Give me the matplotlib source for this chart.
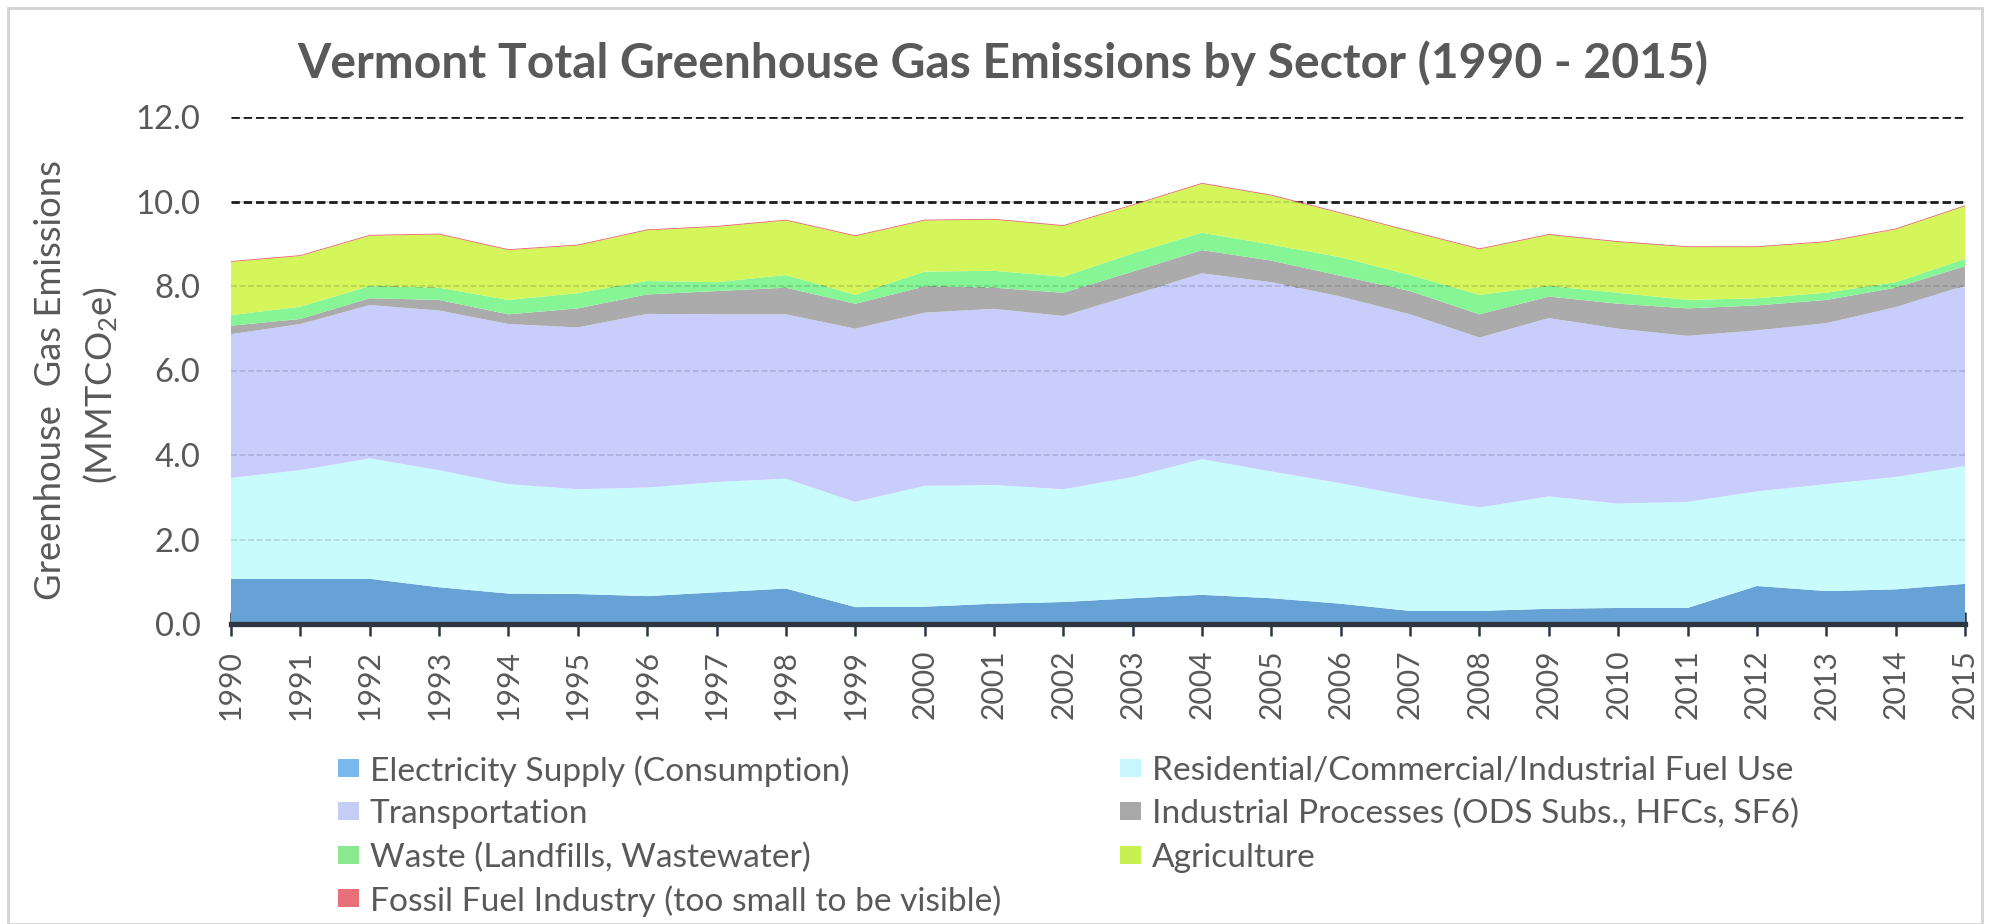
import matplotlib
matplotlib.use("Agg")
import matplotlib.pyplot as plt
from matplotlib.patches import Rectangle

plt.rcParams['font.family'] = ['Lato', 'DejaVu Sans']
plt.rcParams['mathtext.fontset'] = 'custom'
plt.rcParams['mathtext.rm'] = 'Lato'
plt.rcParams['mathtext.it'] = 'Lato:italic'

years = list(range(1990, 2016))

electricity = [1.07, 1.07, 1.07, 0.87, 0.72, 0.71, 0.66, 0.75, 0.84, 0.40, 0.41, 0.48, 0.52,
               0.61, 0.69, 0.61, 0.48, 0.31, 0.31, 0.36, 0.38, 0.38, 0.90, 0.78, 0.82, 0.95]
residential = [2.39, 2.57, 2.85, 2.77, 2.59, 2.48, 2.57, 2.61, 2.60, 2.49, 2.86, 2.81, 2.67,
               2.87, 3.21, 3.00, 2.85, 2.71, 2.45, 2.66, 2.47, 2.51, 2.24, 2.53, 2.66, 2.79]
transportation = [3.40, 3.46, 3.63, 3.78, 3.79, 3.83, 4.11, 3.97, 3.89, 4.10, 4.10, 4.17, 4.10,
                  4.31, 4.40, 4.48, 4.42, 4.31, 4.02, 4.22, 4.14, 3.93, 3.81, 3.81, 4.02, 4.27]
industrial = [0.20, 0.12, 0.16, 0.25, 0.23, 0.45, 0.46, 0.55, 0.63, 0.59, 0.62, 0.50, 0.55,
              0.55, 0.55, 0.51, 0.49, 0.55, 0.55, 0.51, 0.59, 0.65, 0.59, 0.55, 0.46, 0.46]
waste = [0.25, 0.29, 0.29, 0.29, 0.34, 0.36, 0.32, 0.21, 0.30, 0.21, 0.35, 0.40, 0.38,
         0.43, 0.41, 0.38, 0.44, 0.38, 0.46, 0.25, 0.26, 0.20, 0.17, 0.17, 0.13, 0.17]
agriculture = [1.26, 1.20, 1.19, 1.26, 1.18, 1.13, 1.20, 1.31, 1.29, 1.39, 1.21, 1.21, 1.20,
               1.14, 1.16, 1.16, 1.04, 1.03, 1.08, 1.21, 1.20, 1.25, 1.21, 1.20, 1.25, 1.25]
fossil = [0.02] * 26

labels = ["Electricity Supply (Consumption)",
          "Residential/Commercial/Industrial Fuel Use",
          "Transportation",
          "Industrial Processes (ODS Subs., HFCs, SF6)",
          "Waste (Landfills, Wastewater)",
          "Agriculture",
          "Fossil Fuel Industry (too small to be visible)"]
colors = ['#67a2d6', '#c8fcfc', '#c8cdfc', '#ababab', '#86f596', '#d4f65a', '#e8606a']
legend_colors = ['#7ab8ee', '#c8f6fc', '#c5cdf7', '#a8a8a8', '#8ae88e', '#c8f050', '#e8707a']

yticks = [0, 2, 4, 6, 8, 10, 12]
ytick_labels = ["0.0", "2.0", "4.0", "6.0", "8.0", "10.0", "12.0"]
title = "Vermont Total Greenhouse Gas Emissions by Sector (1990 - 2015)"
ylabel1 = "Greenhouse  Gas Emissions"
ylabel2 = "(MMTCO$_2$e)"

TXT = '#595959'
W, H = 1990, 924
fig = plt.figure(figsize=(W / 100, H / 100), dpi=100)
renderer = fig.canvas.get_renderer()


def fx(px):
    return px / W


def fy(py):
    return 1 - py / H


def fit_size(text, target_px, weight='normal', start=20.0):
    size = start
    for _ in range(3):
        t = fig.text(0, 0, text, fontsize=size, fontweight=weight)
        w = t.get_window_extent(renderer).width
        t.remove()
        size *= target_px / w
    return size


fig.patches.append(Rectangle((fx(8), 0), 1 - 16 / W, 1 - 8 / H, transform=fig.transFigure,
                             fill=False, edgecolor='#d4d4d4', linewidth=2))

ax = fig.add_axes([fx(231), fy(624), (1965 - 231) / W, (624 - 117) / H])
series = [electricity, residential, transportation, industrial, waste, agriculture, fossil]
ax.stackplot(years, *series, colors=colors, linewidth=0, zorder=2)

for v in yticks[1:]:
    ax.axhline(v, color='#1a1a1a', linewidth=2.0, dashes=(3.0, 1.4), zorder=1)
    ax.axhline(v, color='#333333', linewidth=1.4, dashes=(3.0, 1.4), alpha=0.16, zorder=3)

ax.set_xlim(1990, 2015)
ax.set_ylim(0, 12)
for s in ['left', 'right', 'top']:
    ax.spines[s].set_visible(False)
ax.spines['bottom'].set_linewidth(3.8)
ax.spines['bottom'].set_color('#2e3642')
ax.spines['bottom'].set_zorder(5)

xt_size = fit_size("1990", 70)
yt_size = fit_size("12.0", 65)

ax.set_xticks(years)
ax.set_xticklabels([str(y) for y in years], rotation=90, fontsize=xt_size, color=TXT)
ax.tick_params(axis='x', direction='inout', length=17, width=1.8, color='#2e3642', pad=10)
ax.set_yticks(yticks)
ax.set_yticklabels(ytick_labels, fontsize=yt_size, color=TXT)
ax.tick_params(axis='y', length=0, pad=22)

title_size = fit_size(title, 1413, weight='bold', start=30)
fig.text(fx(297), fy(78), title, ha='left', va='baseline', fontsize=title_size,
         fontweight='bold', color=TXT)

yl_size = fit_size(ylabel1, 440)
fig.text(fx(51), fy(380), ylabel1, rotation=90, ha='center', va='center',
         fontsize=yl_size, color=TXT)
fig.text(fx(101), fy(385), ylabel2, rotation=90, ha='center', va='center',
         fontsize=yl_size, color=TXT)

leg_size = fit_size("Electricity Supply (Consumptio", 450)
rows = [768, 811, 855, 898]
cols = [(338, 370), (1120, 1152)]
order = [[0, 2, 4, 6], [1, 3, 5]]
for c, idxs in enumerate(order):
    sx, tx = cols[c]
    for r, i in enumerate(idxs):
        yc = rows[r]
        fig.patches.append(Rectangle((fx(sx), fy(yc + 9)), 21 / W, 18 / H,
                                     transform=fig.transFigure, facecolor=legend_colors[i],
                                     edgecolor='none'))
        fig.text(fx(tx), fy(yc), labels[i], ha='left', va='center_baseline',
                 fontsize=leg_size, color=TXT)

fig.savefig("out.png", dpi=100)
